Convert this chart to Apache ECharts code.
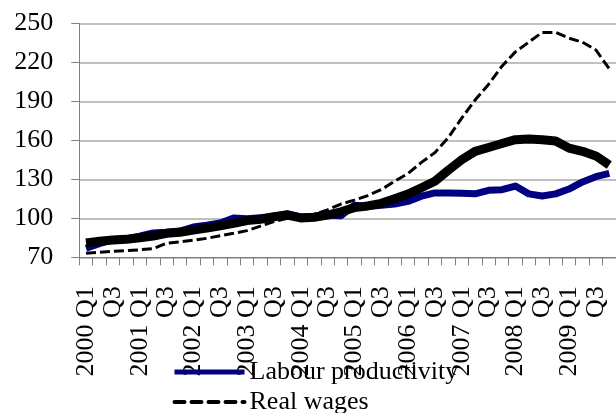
<!DOCTYPE html>
<html>
<head>
<meta charset="utf-8">
<script src="https://cdn.jsdelivr.net/npm/echarts@6/dist/echarts.min.js"></script>
<style>
  html, body { margin: 0; padding: 0; background: #ffffff; }
  #chart { width: 616px; height: 413px; }
</style>
</head>
<body>
<div id="chart"></div>
<script>
// Quarterly indices, 2000 Q1 – 2009 Q4
const years = [2000, 2001, 2002, 2003, 2004, 2005, 2006, 2007, 2008, 2009];
const quarterNames = ['Q1', 'Q2', 'Q3', 'Q4'];

const labourProductivity = [
  77, 80.5, 83.5, 84.3, 86.2, 88.7, 89.2, 90.2,
  93.3, 94.6, 96.4, 100.2, 99.7, 100.5, 101.5, 103.5,
  101, 101.5, 102.5, 102, 110, 109, 110, 111,
  113, 117, 119.5, 119.5, 119.2, 118.8, 121.5, 122,
  124.8, 118.8, 117.2, 118.8, 122.5, 128, 132, 134.5
];

const realWages = [
  73.1, 73.8, 74.6, 75.1, 75.8, 76.6, 80.8, 81.8,
  83.1, 84.6, 86.6, 88.5, 90.5, 94, 97.5, 100,
  101.5, 103, 106.5, 111, 114, 117.5, 122, 128.5,
  134.5, 143, 150.5, 162, 177, 191, 203, 217,
  228, 235.5, 243, 243, 238.5, 235.5, 229.5, 215
];

const unitLabourCosts = [
  81, 82.3, 83.3, 83.8, 85.1, 86.4, 88.5, 89.2,
  91, 92.5, 94.3, 96.1, 98.2, 99.2, 101.2, 102.5,
  100.3, 100.8, 102.5, 105, 108.2, 109.5, 111.5, 115,
  118.7, 123.5, 128.5, 137, 145, 151.5, 154.5, 157.5,
  160.5, 161, 160.5, 159.5, 154, 151.5, 148, 141
];

const yTicks = { min: 70, max: 250, step: 30 };

// Category labels: year shown on Q1 only
const categories = [];
years.forEach(function (y) {
  quarterNames.forEach(function (q, k) {
    categories.push(k === 0 ? y + ' ' + q : q);
  });
});

const serif = 'Liberation Serif';
const chart = echarts.init(document.getElementById('chart'), null, { renderer: 'canvas' });

// legend swatches show the line only, no marker
const noMarker = { opacity: 0 };

chart.setOption({
  animation: false,
  backgroundColor: '#ffffff',
  grid: { left: 79.3, top: 23.3, width: 544, height: 234, containLabel: false },
  legend: {
    orient: 'vertical',
    left: 172,
    top: 359,
    height: 120,
    padding: 0,
    itemWidth: 70,
    itemHeight: 14,
    itemGap: 4,
    textStyle: { fontFamily: serif, fontSize: 26, lineHeight: 26, color: '#000' },
    data: [
      { name: 'Labour productivity', itemStyle: noMarker, lineStyle: { width: 5 } },
      { name: 'Real wages', itemStyle: noMarker, lineStyle: { width: 4, type: [10, 7], cap: 'round' } }
    ]
  },
  xAxis: {
    type: 'category',
    data: categories,
    boundaryGap: true,
    axisLine: { show: true, lineStyle: { color: '#808080', width: 1 } },
    axisTick: { show: true, interval: 0, length: 8, lineStyle: { color: '#808080' } },
    axisLabel: {
      interval: 1,
      rotate: 90,
      margin: 29,
      fontFamily: serif,
      fontSize: 26,
      color: '#000'
    },
    splitLine: { show: false }
  },
  yAxis: {
    type: 'value',
    min: yTicks.min,
    max: yTicks.max,
    interval: yTicks.step,
    axisLine: { show: true, lineStyle: { color: '#808080', width: 1 } },
    axisTick: { show: true, length: 8, lineStyle: { color: '#808080' } },
    axisLabel: { margin: 26, fontFamily: serif, fontSize: 26, color: '#000' },
    splitLine: { show: true, lineStyle: { color: '#c0c0c0', width: 2 } }
  },
  series: [
    {
      name: 'Labour productivity',
      type: 'line',
      data: labourProductivity,
      symbol: 'none',
      lineStyle: { color: '#000080', width: 7, join: 'round' },
      itemStyle: { color: '#000080' },
      z: 2
    },
    {
      name: 'Real wages',
      type: 'line',
      data: realWages,
      symbol: 'none',
      lineStyle: { color: '#000000', width: 3, type: [10, 4] },
      itemStyle: { color: '#000000' },
      z: 3
    },
    {
      name: 'Unit labour costs',
      type: 'line',
      data: unitLabourCosts,
      symbol: 'none',
      lineStyle: { color: '#000000', width: 9, join: 'round' },
      itemStyle: { color: '#000000' },
      z: 4
    }
  ]
});
</script>
</body>
</html>
